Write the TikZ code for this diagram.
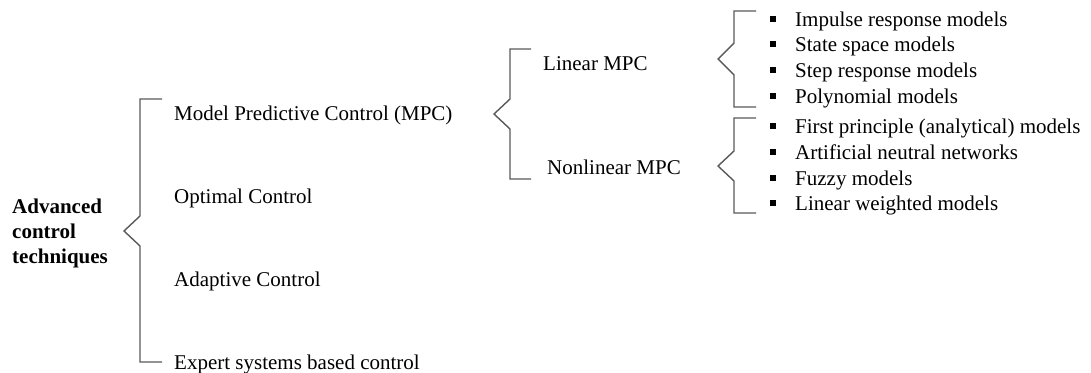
\documentclass[tikz,border=0pt]{standalone}
\usepackage{fontspec}
\setmainfont{Liberation Serif}
\begin{document}
\begin{tikzpicture}[x=1pt,y=-1pt,
  brk/.style={draw=black!65, line width=1.4pt},
  txt/.style={anchor=base west, inner sep=0pt, font=\fontsize{21}{25}\selectfont},
  head/.style={anchor=west, inner sep=0pt, align=left, font=\fontsize{21}{25}\selectfont\bfseries},
  sq/.style={fill=black, minimum size=6pt, inner sep=0pt}]
\useasboundingbox (0,0) rectangle (1091,372);

% angular brace: x, top, bottom, tip y, kink half-gap, arm length
\newcommand\anglebrk[6]{%
  \draw[brk] (#1+#6,#2) -- (#1,#2) -- (#1,#4-#5) -- (#1-16,#4)
    -- (#1,#4+#5) -- (#1,#3) -- (#1+#6,#3);}

% root
\node[head] (root) at (12,233) {Advanced\\control\\techniques};
\anglebrk{140}{99}{362}{231}{15}{22}

% first level
\node[txt] (mpc)  at (174,120) {Model Predictive Control (MPC)};
\node[txt] (opt)  at (174,203) {Optimal Control};
\node[txt] (ada)  at (174,286) {Adaptive Control};
\node[txt] (exp)  at (174,369) {Expert systems based control};

% MPC split
\anglebrk{510}{49}{179}{114}{15}{21}
\node[txt] (lin) at (543,70) {Linear MPC};
\node[txt] (nl)  at (547,174) {Nonlinear MPC};

% model lists
\anglebrk{734}{11}{107}{59}{16}{22}
\anglebrk{734}{118}{213}{166}{15}{22}

\foreach \n/\y/\t in {a1/19/Impulse response models, a2/44/State space models,
    a3/70/Step response models, a4/96/Polynomial models,
    b1/126/First principle (analytical) models, b2/152/Artificial neutral networks,
    b3/178/Fuzzy models, b4/203/Linear weighted models}{
  \node[sq] (s\n) at (773,\y) {};
  \node[txt] (t\n) at (795,\y+7) {\t};
}
\end{tikzpicture}
\end{document}
